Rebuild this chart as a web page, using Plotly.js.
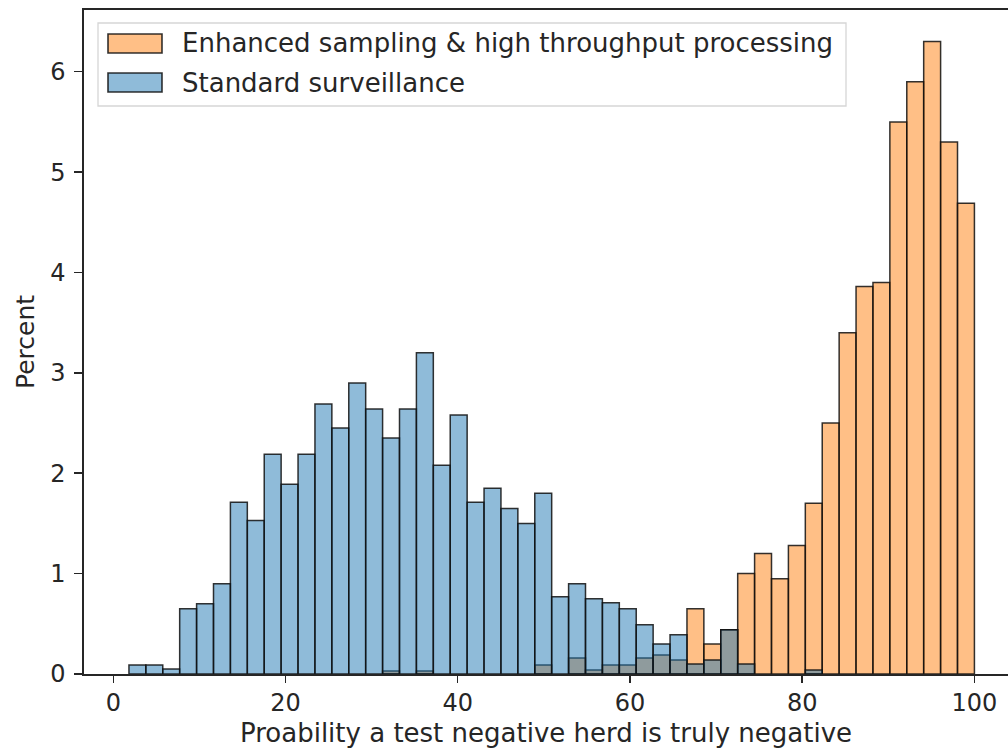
<!DOCTYPE html>
<html>
<head>
<meta charset="utf-8">
<script src="https://cdn.plot.ly/plotly-3.0.1.min.js"></script>
<style>
  html, body { margin: 0; padding: 0; background: #ffffff; }
  #chart { width: 1008px; height: 751px; }
</style>
</head>
<body>
<div id="chart"></div>
<script>
// ---- Data (percent of all herds per bin; 50 bins from binStart to 100) ----
const binStart = 1.82;
const binEnd = 100;
const binCount = 50;

const seriesNames = [
  "Enhanced sampling & high throughput processing",
  "Standard surveillance"
];

const standardPct = [
  0.09, 0.09, 0.05, 0.65, 0.70, 0.90, 1.71, 1.53, 2.19, 1.89,
  2.19, 2.69, 2.45, 2.90, 2.64, 2.35, 2.64, 3.20, 2.08, 2.58,
  1.71, 1.85, 1.65, 1.50, 1.80, 0.77, 0.90, 0.75, 0.71, 0.65,
  0.49, 0.30, 0.39, 0.10, 0.14, 0.44, 0.10, 0.00, 0.00, 0.00,
  0.04, 0.00, 0.00, 0.00, 0.00, 0.00, 0.00, 0.00, 0.00, 0.00
];

const enhancedPct = [
  0.00, 0.00, 0.00, 0.00, 0.00, 0.00, 0.00, 0.00, 0.00, 0.00,
  0.00, 0.00, 0.00, 0.00, 0.00, 0.03, 0.00, 0.03, 0.00, 0.00,
  0.00, 0.00, 0.00, 0.00, 0.09, 0.00, 0.16, 0.04, 0.09, 0.09,
  0.16, 0.19, 0.14, 0.65, 0.30, 0.44, 1.00, 1.20, 0.95, 1.28,
  1.70, 2.50, 3.40, 3.86, 3.90, 5.50, 5.90, 6.30, 5.30, 4.69
];

const xTicks = [0, 20, 40, 60, 80, 100];
const yTicks = [0, 1, 2, 3, 4, 5, 6];

const xTitle = "Proability a test negative herd is truly negative";
const yTitle = "Percent";

// ---- Build traces ----
const binWidth = (binEnd - binStart) / binCount;
const centers = standardPct.map((_, i) => binStart + binWidth * (i + 0.5));
const nz = arr => arr.map(v => (v > 0 ? v : null));

const orangeFill = "rgba(255,127,14,0.5)";
const blueFill = "rgba(31,119,180,0.5)";
const edge = "rgba(15,15,15,0.85)";
const textColor = "#262626";
const fontFamily = "DejaVu Sans, Verdana, sans-serif";

const traces = [
  {
    type: "bar", name: seriesNames[0],
    x: centers, y: nz(enhancedPct), width: binWidth,
    marker: { color: orangeFill, line: { color: edge, width: 1.5 } },
    hoverinfo: "x+y"
  },
  {
    type: "bar", name: seriesNames[1],
    x: centers, y: nz(standardPct), width: binWidth,
    marker: { color: blueFill, line: { color: edge, width: 1.5 } },
    hoverinfo: "x+y"
  }
];

// ---- Layout geometry (px) ----
const W = 1008, H = 751;
const mL = 84, mR = 0, mT = 10, mB = 77;
const pw = W - mL - mR, ph = H - mT - mB;
const px2x = p => (p - mL) / pw;
const py2y = p => 1 - (p - mT) / ph;

// custom legend (large patches like matplotlib)
const legendBox = { x0: 98, x1: 846, y0: 23, y1: 106 };
const patches = [
  { x0: 108, x1: 162, y0: 34, y1: 53, fill: orangeFill, ty: 43.5 },
  { x0: 108, x1: 162, y0: 73, y1: 92, fill: blueFill, ty: 82.5 }
];

const shapes = [
  {
    type: "rect", xref: "paper", yref: "paper",
    x0: px2x(legendBox.x0), x1: px2x(legendBox.x1),
    y0: py2y(legendBox.y1), y1: py2y(legendBox.y0),
    fillcolor: "rgba(255,255,255,0.8)",
    line: { color: "#d6d6d6", width: 1.3 }, layer: "above"
  }
].concat(patches.map(p => ({
  type: "rect", xref: "paper", yref: "paper",
  x0: px2x(p.x0), x1: px2x(p.x1), y0: py2y(p.y1), y1: py2y(p.y0),
  fillcolor: p.fill, line: { color: edge, width: 1.6 }, layer: "above"
})));

const annotations = patches.map((p, i) => ({
  xref: "paper", yref: "paper",
  x: px2x(180), y: py2y(p.ty),
  xanchor: "left", yanchor: "middle",
  text: seriesNames[i], showarrow: false,
  font: { family: fontFamily, size: 26, color: textColor }
}));

const layout = {
  width: W, height: H,
  margin: { l: mL, r: mR, t: mT, b: mB, pad: 0 },
  paper_bgcolor: "#ffffff", plot_bgcolor: "#ffffff",
  barmode: "overlay", bargap: 0,
  showlegend: false,
  font: { family: fontFamily, color: textColor, size: 24 },
  xaxis: {
    range: [-3.40, 103.9],
    tickvals: xTicks, ticktext: xTicks.map(String),
    ticks: "outside", ticklen: 7, tickwidth: 1.5, tickcolor: textColor,
    showline: true, linecolor: textColor, linewidth: 1.6, mirror: true,
    showgrid: false, zeroline: false,
    tickfont: { family: fontFamily, size: 24, color: textColor },
    title: { text: xTitle, font: { family: fontFamily, size: 26, color: textColor }, standoff: 7 },
    automargin: false, fixedrange: true
  },
  yaxis: {
    range: [0, 6.615],
    tickvals: yTicks, ticktext: yTicks.map(String),
    ticks: "outside", ticklen: 8, tickwidth: 1.5, tickcolor: textColor,
    ticklabelstandoff: 4,
    showline: true, linecolor: textColor, linewidth: 1.6, mirror: false,
    showgrid: false, zeroline: false,
    tickfont: { family: fontFamily, size: 24, color: textColor },
    title: { text: yTitle, font: { family: fontFamily, size: 25, color: textColor }, standoff: 8 },
    automargin: false, fixedrange: true
  },
  shapes: shapes,
  annotations: annotations
};

Plotly.newPlot("chart", traces, layout, { displayModeBar: false, staticPlot: true });
</script>
</body>
</html>
